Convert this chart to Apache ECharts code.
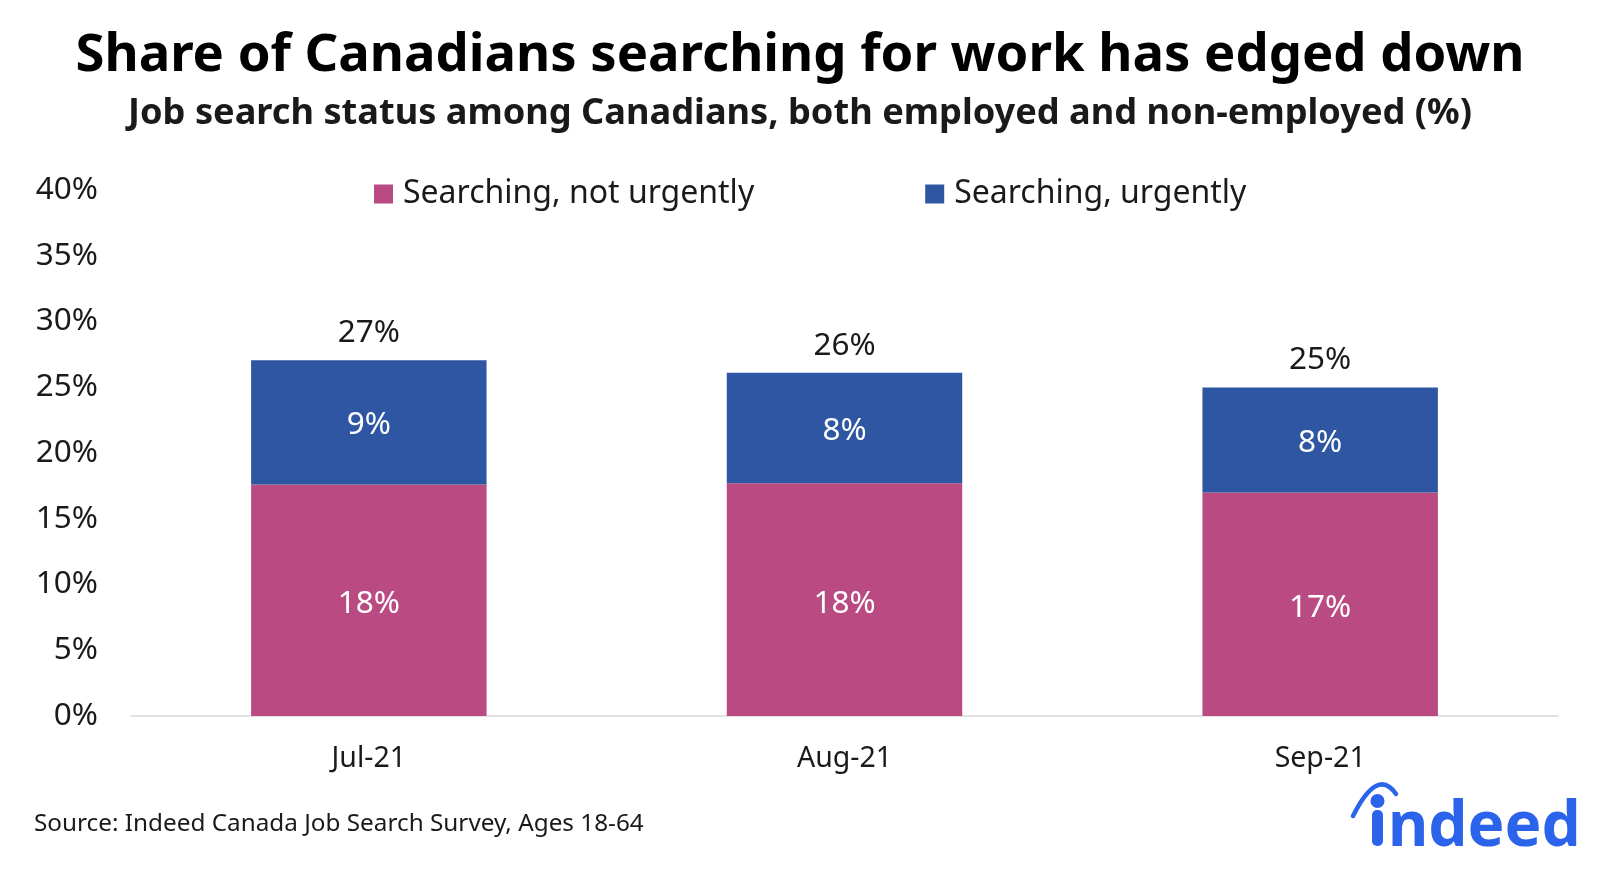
<!DOCTYPE html>
<html>
<head>
<meta charset="utf-8">
<script src="https://cdn.jsdelivr.net/npm/echarts@6/dist/echarts.min.js"></script>
<style>
html,body{margin:0;padding:0;background:#fff;}
#chart{width:1600px;height:874px;}
</style>
</head>
<body>
<div id="chart"></div>
<script>
const categories = ['Jul-21', 'Aug-21', 'Sep-21'];
const notUrgent = [17.6, 17.7, 17.0];
const urgent = [9.45, 8.4, 7.98];
const yTicks = [0, 5, 10, 15, 20, 25, 30, 35, 40];
const seriesNames = ['Searching, not urgently', 'Searching, urgently'];

const totals = notUrgent.map((v, i) => v + urgent[i]);
const FONT = '"Noto Sans", "Open Sans", sans-serif';
const BLUE_LOGO = '#2B63EA';
const chart = echarts.init(document.getElementById('chart'));

chart.setOption({
  backgroundColor: '#ffffff',
  animation: false,
  textStyle: { fontFamily: FONT },
  grid: { left: 131, right: 42, top: 190, bottom: 158, containLabel: false },
  legend: {
    data: seriesNames,
    top: 173,
    left: 369,
    itemWidth: 19,
    itemHeight: 19,
    itemGap: 171,
    icon: 'rect',
    textStyle: { fontFamily: FONT, fontSize: 32, color: '#1a1a1a', padding: [0, 0, 0, 5] }
  },
  xAxis: {
    type: 'category',
    data: categories,
    axisLine: { lineStyle: { color: '#d9d9d9', width: 1.5 } },
    axisTick: { show: false },
    axisLabel: { fontFamily: FONT, fontSize: 28.5, color: '#1a1a1a', margin: 28 }
  },
  yAxis: {
    type: 'value',
    min: yTicks[0],
    max: yTicks[yTicks.length - 1],
    interval: 5,
    axisLine: { show: false },
    axisTick: { show: false },
    splitLine: { show: false },
    axisLabel: { fontFamily: FONT, fontSize: 31.5, color: '#1a1a1a', margin: 33, formatter: v => v + '%' }
  },
  series: [
    {
      name: seriesNames[0],
      type: 'bar',
      stack: 'total',
      barWidth: '49.5%',
      data: notUrgent,
      itemStyle: { color: '#B94B82' },
      label: { show: true, position: 'inside', offset: [0, 4], color: '#ffffff', fontFamily: FONT, fontSize: 31.5, formatter: p => Math.round(p.value) + '%' }
    },
    {
      name: seriesNames[1],
      type: 'bar',
      stack: 'total',
      data: urgent,
      itemStyle: { color: '#2F56A3' },
      label: { show: true, position: 'inside', offset: [0, 3], color: '#ffffff', fontFamily: FONT, fontSize: 31.5, formatter: p => Math.round(p.value) + '%' }
    },
    {
      name: 'Total',
      type: 'bar',
      barGap: '-100%',
      barWidth: '49.5%',
      z: 0,
      data: totals,
      itemStyle: { color: 'rgba(0,0,0,0)' },
      label: { show: true, position: 'top', distance: 11, color: '#1a1a1a', fontFamily: FONT, fontSize: 31.5, formatter: p => Math.round(p.value) + '%' },
      silent: true
    }
  ],
  graphic: [
    { type: 'text', left: 'center', top: 30, style: { text: 'Share of Canadians searching for work has edged down', font: 'bold 52.6px "Noto Sans", sans-serif', fill: '#000000' } },
    { type: 'text', left: 'center', top: 96, style: { text: 'Job search status among Canadians, both employed and non-employed (%)', font: 'bold 36.2px "Noto Sans", sans-serif', fill: '#1a1a1a' } },
    { type: 'text', left: 34, top: 812, style: { text: 'Source: Indeed Canada Job Search Survey, Ages 18-64', font: '24.3px "Noto Sans", sans-serif', fill: '#1a1a1a' } },
    { type: 'text', x: 1388, y: 828, style: { text: 'ndeed', font: 'bold 62px "Noto Sans", sans-serif', fill: BLUE_LOGO, verticalAlign: 'middle', align: 'left' } },
    { type: 'rect', shape: { x: 1372, y: 810, width: 11, height: 36, r: 5 }, style: { fill: BLUE_LOGO } },
    { type: 'circle', shape: { cx: 1377.5, cy: 801, r: 7 }, style: { fill: BLUE_LOGO } },
    { type: 'bezierCurve', shape: { x1: 1353, y1: 816, x2: 1396, y2: 794, cpx1: 1377.5, cpy1: 767 }, style: { stroke: BLUE_LOGO, lineWidth: 4.5, fill: null, lineCap: 'round' } }
  ]
});
</script>
</body>
</html>
